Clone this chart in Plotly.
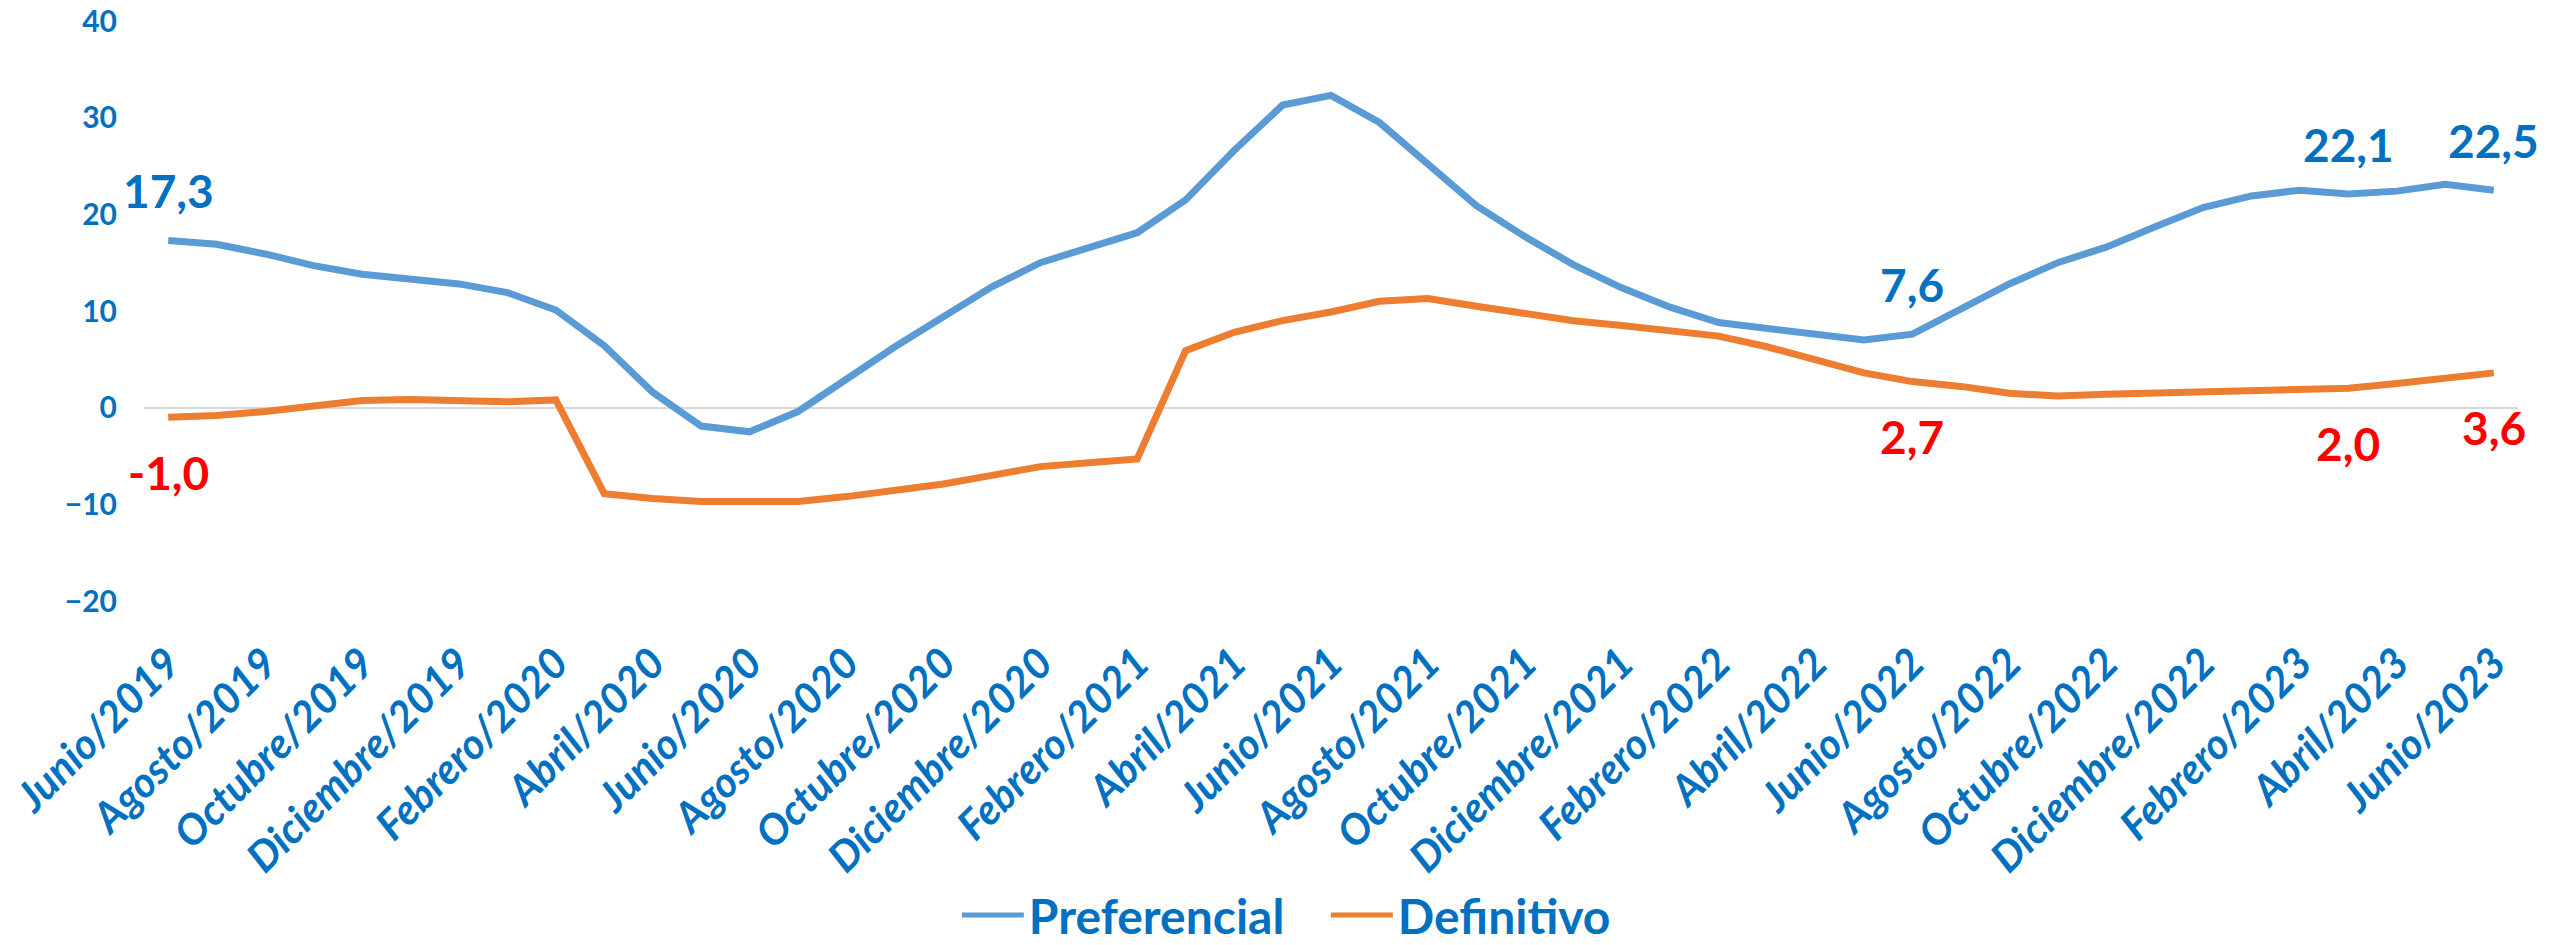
import plotly.graph_objects as go

months = ["Junio", "Julio", "Agosto", "Septiembre", "Octubre", "Noviembre",
          "Diciembre", "Enero", "Febrero", "Marzo", "Abril", "Mayo"]
categories = []
year = 2019
for k in range(49):
    name = months[k % 12]
    if name == "Enero":
        year += 1
    categories.append(f"{name}/{year}")

preferencial = [17.3, 16.9, 15.9, 14.7, 13.8, 13.3, 12.8, 11.9, 10.1, 6.4,
                1.6, -1.9, -2.5, -0.4, 3.0, 6.3, 9.4, 12.5, 15.0, 16.6,
                18.1, 21.5, 26.6, 31.3, 32.3, 29.5, 25.2, 20.9, 17.7, 14.8,
                12.4, 10.4, 8.8, 8.2, 7.6, 7.0, 7.6, 10.1, 12.8, 15.0,
                16.6, 18.7, 20.7, 21.9, 22.5, 22.1, 22.4, 23.1, 22.5]

definitivo = [-1.0, -0.8, -0.4, 0.2, 0.75, 0.85, 0.65, 0.6, 0.8, -8.9,
              -9.4, -9.7, -9.7, -9.7, -9.2, -8.6, -7.9, -7.0, -6.1, -5.7,
              -5.3, 5.9, 7.8, 9.0, 9.9, 11.0, 11.3, 10.5, 9.7, 9.0,
              8.5, 8.0, 7.4, 6.3, 4.9, 3.6, 2.7, 2.2, 1.5, 1.2,
              1.4, 1.55, 1.6, 1.75, 1.85, 2.0, 2.5, 3.1, 3.6]

label_idx = [0, 36, 45, 48]
tick_labels = categories[::2]

BLUE_TXT = "#0070C0"
FONT = "Lato"

fig = go.Figure()
fig.add_trace(go.Scatter(x=categories, y=preferencial, mode="lines", name="Preferencial",
                         line=dict(color="#5B9BD5", width=7)))
fig.add_trace(go.Scatter(x=categories, y=definitivo, mode="lines", name="Definitivo",
                         line=dict(color="#ED7D31", width=7)))

for i in label_idx:
    fig.add_annotation(x=categories[i], y=preferencial[i], xref="x", yref="y",
                       text=f"{preferencial[i]:.1f}".replace(".", ","), showarrow=False,
                       yshift=50, font=dict(family=FONT, size=46, color=BLUE_TXT, weight="bold"))
    fig.add_annotation(x=categories[i], y=definitivo[i], xref="x", yref="y",
                       text=f"{definitivo[i]:.1f}".replace(".", ","), showarrow=False,
                       yshift=-55, font=dict(family=FONT, size=46, color="#FF0000", weight="bold"))

fig.update_layout(
    width=2552, height=945,
    margin=dict(l=144, r=34, t=21, b=344, autoexpand=False),
    plot_bgcolor="white", paper_bgcolor="white",
    showlegend=True,
    legend=dict(orientation="h", x=0.3424, y=-0.542, xanchor="left", yanchor="middle",
                font=dict(family=FONT, size=48, color=BLUE_TXT, weight="bold"),
                itemwidth=62, tracegroupgap=0, itemsizing="constant",
                entrywidth=292, entrywidthmode="pixels"),
    xaxis=dict(type="category", categoryorder="array", categoryarray=categories,
               range=[-0.5, 48.5], tickmode="array", tickvals=tick_labels, ticktext=tick_labels,
               tickangle=-45, showgrid=False, zeroline=False, showline=False, ticks="",
               ticklabelstandoff=28, automargin=False, ticklabeloverflow="allow",
               tickfont=dict(family=FONT, size=42, color=BLUE_TXT, weight="bold", style="italic")),
    yaxis=dict(range=[-20, 40], dtick=10, tick0=0, showgrid=False, zeroline=True,
               zerolinecolor="#D9D9D9", zerolinewidth=2, showline=False, ticks="",
               ticklabelstandoff=26, automargin=False, ticklabeloverflow="allow",
               tickfont=dict(family=FONT, size=30, color=BLUE_TXT, weight="bold")),
)

fig.write_html("out.html", config={"displayModeBar": False},
               post_script="document.body.style.margin='0px';")
